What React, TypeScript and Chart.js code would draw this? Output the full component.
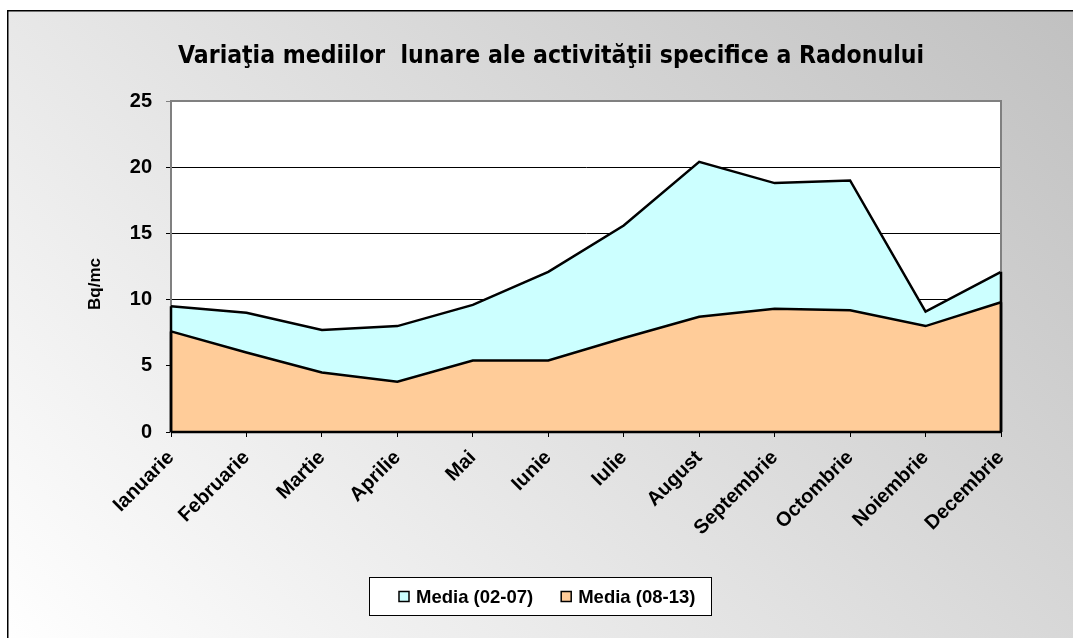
import React, { useEffect, useRef } from "react";
import { Chart, registerables } from "chart.js";

Chart.register(...registerables);

const months = ["Ianuarie", "Februarie", "Martie", "Aprilie", "Mai", "Iunie", "Iulie", "August", "Septembrie", "Octombrie", "Noiembrie", "Decembrie"];
const media0207 = [9.5, 9.0, 7.7, 8.0, 9.6, 12.1, 15.6, 20.4, 18.8, 19.0, 9.1, 12.1];
const media0813 = [7.6, 6.0, 4.5, 3.8, 5.4, 5.4, 7.1, 8.7, 9.3, 9.2, 8.0, 9.8];
const yTicks = [0, 5, 10, 15, 20, 25];
const seriesLabels = ["Media (02-07)", "Media (08-13)"];
const seriesColors = ["#CCFFFF", "#FFCC99"];
const titleText = "Variaţia mediilor  lunare ale activităţii specifice a Radonului";
const yAxisTitle = "Bq/mc";

const ARIAL = "Arial, 'Liberation Sans', sans-serif";

const decorPlugin = {
  id: "decor",
  beforeDraw(chart: any) {
    const { ctx, width, height, chartArea: a } = chart;
    ctx.save();
    ctx.fillStyle = "#ffffff";
    ctx.fillRect(0, 0, width, height);
    const x0 = 7, y0 = 10;
    const cx = (x0 + width) / 2, cy = (y0 + height) / 2;
    const d = 430;
    const g = ctx.createLinearGradient(cx + d, cy - d, cx - d, cy + d);
    g.addColorStop(0, "#c0c0c0");
    g.addColorStop(1, "#ffffff");
    ctx.fillStyle = g;
    ctx.fillRect(x0, y0, width - x0, height - y0);
    ctx.strokeStyle = "#000";
    ctx.lineWidth = 1.5;
    ctx.beginPath();
    ctx.moveTo(x0 + 0.75, height);
    ctx.lineTo(x0 + 0.75, y0 + 0.75);
    ctx.lineTo(width, y0 + 0.75);
    ctx.stroke();
    // plot area
    ctx.fillStyle = "#ffffff";
    ctx.fillRect(a.left, a.top, a.right - a.left, a.bottom - a.top);
    // title
    ctx.font = `bold 25px 'DejaVu Sans', sans-serif`;
    ctx.fillStyle = "#000";
    ctx.textBaseline = "alphabetic";
    ctx.textAlign = "center";
    const tw = ctx.measureText(titleText).width;
    const targetW = 746;
    ctx.save();
    ctx.translate(551, 63);
    ctx.scale(targetW / tw, 1);
    ctx.fillText(titleText, 0, 0);
    ctx.restore();
    // y axis title
    ctx.save();
    ctx.translate(95, 284);
    ctx.rotate(-Math.PI / 2);
    ctx.font = `bold 17px ${ARIAL}`;
    ctx.textAlign = "center";
    ctx.textBaseline = "middle";
    ctx.fillText(yAxisTitle, 0, 0);
    ctx.restore();
    ctx.restore();
  },
  afterDatasetsDraw(chart: any) {
    const { ctx, chartArea: a } = chart;
    ctx.save();
    ctx.strokeStyle = "#808080";
    ctx.lineWidth = 2;
    ctx.beginPath();
    ctx.moveTo(a.left, a.top);
    ctx.lineTo(a.right, a.top);
    ctx.lineTo(a.right, a.bottom);
    ctx.stroke();
    ctx.strokeStyle = "#000";
    ctx.lineWidth = 2.5;
    chart.data.datasets.forEach((_: any, i: number) => {
      const pts = chart.getDatasetMeta(i).data;
      const first = pts[0], last = pts[pts.length - 1];
      ctx.beginPath();
      ctx.moveTo(first.x, first.y);
      ctx.lineTo(first.x, a.bottom);
      ctx.moveTo(last.x, last.y);
      ctx.lineTo(last.x, a.bottom);
      ctx.stroke();
    });
    ctx.lineWidth = 2.5;
    ctx.beginPath();
    ctx.moveTo(a.left, a.bottom);
    ctx.lineTo(a.right, a.bottom);
    ctx.stroke();
    ctx.restore();
  },
  afterDraw(chart: any) {
    const { ctx } = chart;
    ctx.save();
    const bx = 369, by = 577, bw = 342, bh = 38;
    ctx.fillStyle = "#ffffff";
    ctx.fillRect(bx, by, bw, bh);
    ctx.strokeStyle = "#000";
    ctx.lineWidth = 1;
    ctx.strokeRect(bx + 0.5, by + 0.5, bw, bh);
    ctx.font = `bold 18.5px ${ARIAL}`;
    ctx.textBaseline = "middle";
    ctx.textAlign = "left";
    let x = 399;
    const cyL = by + bh / 2 + 0.5;
    chart.data.datasets.forEach((ds: any) => {
      ctx.fillStyle = ds.backgroundColor;
      ctx.fillRect(x, cyL - 5, 10, 10);
      ctx.strokeStyle = "#000";
      ctx.lineWidth = 1.5;
      ctx.strokeRect(x, cyL - 5, 10, 10);
      ctx.fillStyle = "#000";
      ctx.fillText(ds.label, x + 17, cyL + 1);
      x += 17 + ctx.measureText(ds.label).width + 28;
    });
    ctx.restore();
  },
};

export default function App() {
  const ref = useRef<HTMLCanvasElement>(null);
  useEffect(() => {
    document.body.style.margin = "0";
    const canvas = ref.current!;
    const chart = new Chart(canvas, {
      type: "line",
      data: {
        labels: months,
        datasets: [
          {
            label: seriesLabels[0],
            data: media0207,
            backgroundColor: seriesColors[0],
            borderColor: "#000",
            borderWidth: 2.5,
            fill: "origin",
            pointRadius: 0,
            tension: 0,
            order: 2,
          },
          {
            label: seriesLabels[1],
            data: media0813,
            backgroundColor: seriesColors[1],
            borderColor: "#000",
            borderWidth: 2.5,
            fill: "origin",
            pointRadius: 0,
            tension: 0,
            order: 1,
          },
        ],
      },
      options: {
        responsive: false,
        animation: false,
        events: [],
        layout: { padding: { top: 101, right: 72, bottom: 0, left: 0 } },
        plugins: {
          legend: { display: false },
          title: { display: false },
          tooltip: { enabled: false },
        },
        scales: {
          x: {
            type: "category",
            offset: false,
            grid: { drawOnChartArea: false, drawTicks: true, tickLength: 5, color: "#000", lineWidth: 1 },
            border: { color: "#000", width: 2 },
            ticks: {
              autoSkip: false,
              minRotation: 45,
              maxRotation: 45,
              color: "#000",
              padding: 9,
              font: { family: ARIAL, size: 20, weight: "bold" },
            },
            afterFit: (s: any) => {
              s.height = 206;
            },
          },
          y: {
            min: 0,
            max: 25,
            afterBuildTicks: (s: any) => {
              s.ticks = yTicks.map((v) => ({ value: v }));
            },
            ticks: {
              color: "#000",
              padding: 14,
              font: { family: ARIAL, size: 20, weight: "bold" },
            },
            grid: {
              color: (c: any) => (c.tick && c.tick.value === 25 ? "#808080" : "#000"),
              lineWidth: 1,
              tickLength: 5,
            },
            border: { color: "#808080", width: 2 },
            afterFit: (s: any) => {
              s.width = 171;
            },
          },
        },
      },
      plugins: [decorPlugin],
    } as any);
    return () => chart.destroy();
  }, []);
  return (
    <canvas
      ref={ref}
      width={1073}
      height={638}
      style={{ display: "block", position: "absolute", left: 0, top: 0, width: 1073, height: 638 }}
    />
  );
}
